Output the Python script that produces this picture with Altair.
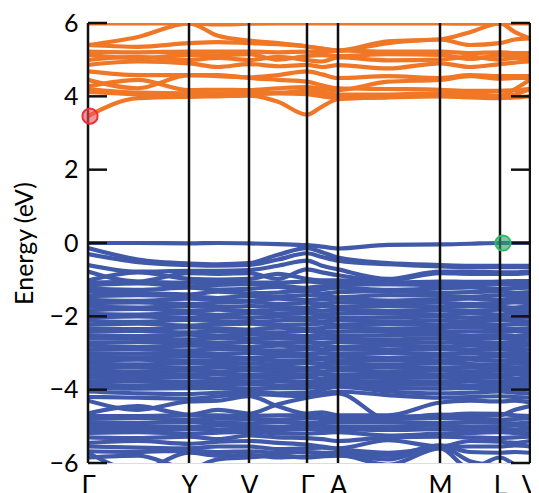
import altair as alt
import pandas as pd

# High-symmetry path
kpath_labels = ["Γ", "Y", "V", "Γ", "A", "M", "L", "V"]
kpath_pos = [0, 101, 161, 219, 250, 352, 412, 442]
# k positions where band energies were read
kgrid = [0, 50, 101, 130, 161, 190, 219, 234, 250, 300, 352, 382, 412, 427, 442]

# Conduction bands (eV)
cond_low = [
    [3.46, 3.95, 3.99, 4.00, 4.02, 3.85, 3.50, 3.72, 3.92, 3.97, 4.00, 3.97, 3.95, 3.97, 4.00],
    [4.12, 4.05, 3.99, 4.03, 4.05, 4.08, 4.06, 4.00, 3.95, 3.98, 4.03, 4.00, 3.97, 4.05, 4.20],
    [4.20, 4.10, 4.08, 4.08, 4.10, 4.10, 4.15, 4.10, 4.05, 4.05, 4.08, 4.05, 4.02, 4.20, 4.45],
    [4.27, 4.45, 4.17, 4.18, 4.17, 4.22, 4.25, 4.20, 4.17, 4.40, 4.45, 4.55, 4.48, 4.50, 4.50],
    [4.45, 4.22, 4.58, 4.58, 4.50, 4.45, 4.40, 4.30, 4.22, 4.20, 4.18, 4.15, 4.15, 4.17, 4.20],
    [4.68, 4.58, 4.58, 4.55, 4.52, 4.58, 4.68, 4.60, 4.50, 4.55, 4.50, 4.58, 4.55, 4.55, 4.55],
]
cond_high = [
    [4.86, 4.95, 4.90, 4.80, 4.88, 4.82, 4.86, 4.80, 4.85, 4.76, 4.90, 4.80, 4.88, 4.92, 4.95],
    [4.99, 5.08, 4.99, 5.05, 4.99, 5.08, 4.99, 4.95, 5.06, 4.98, 5.00, 5.08, 5.00, 5.05, 5.02],
    [5.13, 5.04, 5.13, 5.12, 5.15, 5.00, 5.10, 5.12, 5.10, 5.15, 5.13, 5.02, 5.12, 5.10, 5.10],
    [5.22, 5.20, 5.22, 5.22, 5.22, 5.20, 5.22, 5.20, 5.25, 5.22, 5.22, 5.18, 5.20, 5.18, 5.18],
    [5.40, 5.62, 5.99, 5.65, 5.52, 5.45, 5.36, 5.30, 5.25, 5.50, 5.55, 5.75, 5.99, 5.75, 5.58],
    [5.40, 5.35, 5.45, 5.48, 5.45, 5.42, 5.36, 5.30, 5.25, 5.45, 5.55, 5.40, 5.45, 5.55, 5.58],
    [5.99, 5.99, 5.99, 5.96, 5.98, 5.99, 5.99, 5.99, 5.99, 5.99, 5.99, 5.98, 5.99, 5.99, 5.99],
]

# Valence bands (eV)
val_top = [
    [0.00, 0.00, -0.01, 0.00, -0.01, -0.03, -0.06, -0.10, -0.15, -0.05, -0.04, -0.02, 0.00, 0.00, 0.00],
    [-0.14, -0.45, -0.56, -0.58, -0.55, -0.32, -0.14, -0.25, -0.40, -0.55, -0.60, -0.62, -0.62, -0.62, -0.62],
    [-0.30, -0.52, -0.60, -0.62, -0.60, -0.45, -0.28, -0.38, -0.48, -0.58, -0.64, -0.66, -0.66, -0.66, -0.66],
    [-0.60, -0.78, -0.76, -0.76, -0.74, -0.62, -0.48, -0.62, -0.72, -0.98, -0.78, -0.78, -0.80, -0.80, -0.78],
    [-0.78, -1.05, -0.82, -0.84, -0.82, -0.98, -0.72, -0.80, -0.88, -1.02, -0.82, -0.84, -0.84, -0.84, -0.82],
    [-1.02, -0.80, -0.98, -1.00, -0.98, -0.84, -0.98, -1.02, -1.02, -1.08, -1.05, -1.06, -1.05, -1.04, -1.04],
    [-1.08, -1.06, -1.08, -1.06, -1.08, -1.08, -1.05, -1.08, -1.10, -1.12, -1.10, -1.10, -1.09, -1.10, -1.10],
]
val_dense_a = [
    [-1.15, -1.10, -1.18, -1.14, -1.12, -1.16, -1.22, -1.18, -1.15, -1.12, -1.15, -1.13, -1.12, -1.14, -1.15],
    [-1.24, -1.28, -1.22, -1.27, -1.25, -1.20, -1.30, -1.26, -1.22, -1.28, -1.24, -1.21, -1.25, -1.23, -1.22],
    [-1.33, -1.36, -1.40, -1.33, -1.37, -1.35, -1.30, -1.38, -1.34, -1.31, -1.36, -1.34, -1.32, -1.36, -1.34],
    [-1.45, -1.42, -1.46, -1.50, -1.44, -1.46, -1.42, -1.45, -1.48, -1.42, -1.44, -1.47, -1.43, -1.45, -1.44],
    [-1.55, -1.58, -1.52, -1.55, -1.57, -1.52, -1.56, -1.54, -1.52, -1.57, -1.54, -1.52, -1.56, -1.54, -1.55],
    [-1.64, -1.62, -1.66, -1.63, -1.60, -1.66, -1.63, -1.66, -1.62, -1.65, -1.63, -1.66, -1.64, -1.62, -1.65],
    [-1.73, -1.76, -1.72, -1.75, -1.72, -1.74, -1.76, -1.72, -1.75, -1.72, -1.75, -1.72, -1.74, -1.76, -1.73],
    [-1.84, -1.80, -1.85, -1.82, -1.86, -1.82, -1.83, -1.85, -1.82, -1.86, -1.83, -1.85, -1.82, -1.84, -1.83],
    [-1.93, -1.95, -1.92, -1.96, -1.92, -1.94, -1.92, -1.95, -1.93, -1.92, -1.95, -1.92, -1.95, -1.92, -1.94],
    [-2.03, -2.00, -2.05, -2.02, -2.04, -2.01, -2.05, -2.02, -2.05, -2.03, -2.01, -2.04, -2.03, -2.05, -2.02],
    [-2.12, -2.15, -2.10, -2.13, -2.15, -2.12, -2.10, -2.14, -2.11, -2.14, -2.12, -2.14, -2.11, -2.13, -2.14],
    [-2.23, -2.20, -2.25, -2.22, -2.20, -2.24, -2.22, -2.20, -2.24, -2.21, -2.24, -2.22, -2.24, -2.22, -2.21],
    [-2.33, -2.35, -2.30, -2.33, -2.36, -2.31, -2.34, -2.32, -2.30, -2.34, -2.32, -2.30, -2.33, -2.35, -2.32],
    [-2.42, -2.40, -2.44, -2.41, -2.43, -2.44, -2.40, -2.43, -2.42, -2.40, -2.43, -2.41, -2.42, -2.40, -2.43],
    [-2.52, -2.54, -2.50, -2.53, -2.50, -2.52, -2.54, -2.50, -2.53, -2.51, -2.50, -2.53, -2.51, -2.53, -2.50],
]
val_dense_b = [
    [-2.61, -2.60, -2.63, -2.60, -2.62, -2.60, -2.62, -2.60, -2.61, -2.63, -2.60, -2.62, -2.60, -2.62, -2.61],
    [-2.72, -2.70, -2.70, -2.73, -2.70, -2.72, -2.70, -2.73, -2.70, -2.72, -2.71, -2.70, -2.73, -2.70, -2.72],
    [-2.80, -2.83, -2.80, -2.81, -2.83, -2.80, -2.82, -2.80, -2.83, -2.80, -2.82, -2.80, -2.82, -2.81, -2.80],
    [-2.91, -2.90, -2.93, -2.90, -2.91, -2.93, -2.90, -2.92, -2.90, -2.92, -2.90, -2.92, -2.90, -2.92, -2.91],
    [-3.00, -3.02, -3.00, -3.03, -3.00, -3.01, -3.03, -3.00, -3.02, -3.00, -3.03, -3.00, -3.02, -3.00, -3.02],
    [-3.10, -3.12, -3.09, -3.11, -3.13, -3.10, -3.09, -3.12, -3.10, -3.13, -3.10, -3.12, -3.09, -3.11, -3.10],
    [-3.20, -3.18, -3.21, -3.20, -3.18, -3.22, -3.20, -3.18, -3.21, -3.19, -3.21, -3.18, -3.21, -3.19, -3.20],
    [-3.29, -3.31, -3.28, -3.30, -3.29, -3.31, -3.28, -3.30, -3.29, -3.31, -3.28, -3.30, -3.31, -3.29, -3.30],
    [-3.39, -3.38, -3.40, -3.38, -3.40, -3.39, -3.41, -3.38, -3.40, -3.38, -3.40, -3.39, -3.38, -3.40, -3.39],
    [-3.48, -3.50, -3.48, -3.50, -3.47, -3.49, -3.48, -3.50, -3.47, -3.50, -3.48, -3.50, -3.48, -3.49, -3.48],
    [-3.58, -3.57, -3.59, -3.57, -3.59, -3.57, -3.59, -3.57, -3.59, -3.57, -3.60, -3.57, -3.59, -3.57, -3.58],
    [-3.67, -3.68, -3.66, -3.69, -3.67, -3.68, -3.66, -3.69, -3.67, -3.68, -3.66, -3.68, -3.67, -3.69, -3.67],
    [-3.77, -3.76, -3.78, -3.76, -3.78, -3.76, -3.78, -3.77, -3.76, -3.78, -3.77, -3.76, -3.78, -3.76, -3.77],
    [-3.86, -3.88, -3.86, -3.87, -3.85, -3.88, -3.86, -3.85, -3.84, -3.87, -3.86, -3.88, -3.86, -3.87, -3.86],
    [-3.95, -3.97, -3.96, -3.95, -3.97, -3.96, -3.95, -3.92, -3.90, -3.96, -3.97, -3.95, -3.96, -3.95, -3.97],
]
val_deep = [
    [-4.05, -4.10, -4.12, -4.08, -4.05, -4.10, -4.08, -4.00, -3.92, -4.05, -4.10, -4.08, -4.05, -4.08, -4.10],
    [-4.20, -4.22, -4.25, -4.18, -4.12, -4.15, -4.18, -4.10, -4.05, -4.15, -4.22, -4.20, -4.18, -4.20, -4.22],
    [-4.30, -4.55, -4.32, -4.30, -4.18, -4.45, -4.65, -4.62, -4.70, -4.70, -4.35, -4.30, -4.32, -4.30, -4.35],
    [-4.65, -4.45, -4.68, -4.55, -4.65, -4.40, -4.22, -4.15, -4.10, -4.80, -4.68, -4.72, -4.70, -4.55, -4.45],
    [-4.72, -4.72, -4.70, -4.70, -4.72, -4.70, -4.70, -4.72, -4.76, -4.74, -4.70, -4.65, -4.66, -4.70, -4.72],
    [-4.80, -4.78, -4.82, -4.79, -4.80, -4.82, -4.78, -4.80, -4.82, -4.80, -4.78, -4.80, -4.82, -4.80, -4.78],
    [-4.89, -4.91, -4.88, -4.90, -4.92, -4.88, -4.90, -4.91, -4.89, -4.88, -4.91, -4.89, -4.90, -4.92, -4.89],
    [-4.99, -5.00, -5.01, -4.98, -5.00, -5.01, -4.98, -5.00, -5.01, -5.00, -4.98, -5.01, -5.00, -4.98, -5.00],
    [-5.08, -5.10, -5.07, -5.10, -5.08, -5.10, -5.07, -5.10, -5.08, -5.10, -5.08, -5.10, -5.08, -5.10, -5.09],
    [-5.18, -5.16, -5.20, -5.17, -5.15, -5.19, -5.20, -5.18, -5.16, -5.25, -5.20, -5.18, -5.16, -5.18, -5.20],
    [-5.30, -5.32, -5.28, -5.35, -5.25, -5.30, -5.32, -5.35, -5.40, -5.30, -5.28, -5.30, -5.32, -5.30, -5.28],
    [-5.45, -5.40, -5.48, -5.42, -5.40, -5.45, -5.50, -5.55, -5.60, -5.38, -5.55, -5.40, -5.42, -5.45, -5.40],
    [-5.55, -5.58, -5.60, -5.55, -5.55, -5.62, -5.60, -5.58, -5.62, -5.72, -5.58, -5.55, -5.55, -5.52, -5.55],
    [-5.68, -5.70, -5.66, -5.70, -5.68, -5.72, -5.70, -5.72, -5.72, -5.80, -5.52, -5.70, -5.72, -5.70, -5.72],
    [-5.72, -6.20, -5.72, -5.80, -5.78, -5.85, -5.82, -5.80, -5.78, -6.05, -5.60, -6.15, -5.85, -6.05, -6.25],
    [-5.85, -5.80, -6.15, -5.90, -5.85, -5.80, -5.85, -5.82, -5.80, -5.90, -5.55, -5.95, -6.10, -6.25, -6.40],
]

# Highlighted band-edge points: (k, E, colour)
marker_k = [2, 415]
marker_e = [3.46, 0.0]
marker_fill = ["#f0505a", "#2e9e68"]
marker_stroke = ["#e8303a", "#2dbb6a"]

yticks = [-6, -4, -2, 0, 2, 4, 6]

BLUE = "#4059a9"
ORANGE = "#ef7726"
FONT = "Lato"

rows = []
groups = [("c", cond_low), ("c", cond_high), ("v", val_top), ("v", val_dense_a),
          ("v", val_dense_b), ("v", val_deep)]
n = 0
for kind, bands in groups:
    for band in bands:
        n += 1
        for k, e in zip(kgrid, band):
            rows.append({"band": f"b{n}", "kind": kind, "k": k, "E": e})
bands_df = pd.DataFrame(rows)

xscale = alt.Scale(domain=[0, 442], nice=False, zero=False)
yscale = alt.Scale(domain=[-6, 6], nice=False, zero=False)

label_expr = " : ".join(f"datum.value == {p} ? '{l}'" for p, l in zip(kpath_pos, kpath_labels)) + " : ''"

lines = alt.Chart(bands_df).mark_line(interpolate="monotone", strokeWidth=4.2, clip=True).encode(
    x=alt.X("k:Q", scale=xscale, axis=alt.Axis(
        values=kpath_pos, labelExpr=label_expr, ticks=False, domain=False, grid=False,
        labelFontSize=26, labelPadding=10, labelFont=FONT, labelColor="#000",
        labelFlush=False, labelOverlap=False, labelBound=False, title=None)),
    y=alt.Y("E:Q", scale=yscale, axis=alt.Axis(
        values=yticks, ticks=False, domain=False, grid=False, format="d",
        labelFontSize=25, labelPadding=10, labelFont=FONT, labelColor="#000",
        labelFlush=False, labelOverlap=False,
        title="Energy (eV)", titleFont=FONT, titleFontSize=25, titleFontWeight="normal",
        titleColor="#000", titleX=-64, titleY=220, titleAngle=-90,
        titleAlign="center", titleBaseline="middle")),
    detail="band:N",
    color=alt.Color("kind:N", scale=alt.Scale(domain=["c", "v"], range=[ORANGE, BLUE]), legend=None),
)

vlines = alt.Chart(pd.DataFrame({"k": kpath_pos})).mark_rule(color="#111", strokeWidth=2.5).encode(
    x=alt.X("k:Q", scale=xscale)
)

ticks_df = pd.DataFrame({"E": yticks})
ticks_left = alt.Chart(ticks_df).mark_rule(color="#111", strokeWidth=2.5).encode(
    y=alt.Y("E:Q", scale=yscale), x=alt.value(0), x2=alt.value(19)
)
ticks_right = alt.Chart(ticks_df).mark_rule(color="#111", strokeWidth=2.5).encode(
    y=alt.Y("E:Q", scale=yscale), x=alt.value(423), x2=alt.value(442)
)

markers_df = pd.DataFrame({"k": marker_k, "E": marker_e, "fill": marker_fill, "stroke": marker_stroke})
markers = alt.Chart(markers_df).mark_circle(size=230, fillOpacity=0.6, strokeWidth=2, opacity=1).encode(
    x=alt.X("k:Q", scale=xscale),
    y=alt.Y("E:Q", scale=yscale),
    fill=alt.Fill("fill:N", scale=None),
    stroke=alt.Stroke("stroke:N", scale=None),
)

chart = alt.layer(lines, vlines, ticks_left, ticks_right, markers).properties(
    width=442, height=440,
    autosize=alt.AutoSizeParams(type="none"),
    padding={"left": 80, "top": 15, "right": 1, "bottom": 30},
).configure_view(stroke="#111", strokeWidth=2.5).configure(background="white")

chart.save("out.html", embed_options={"renderer": "svg", "actions": False})
